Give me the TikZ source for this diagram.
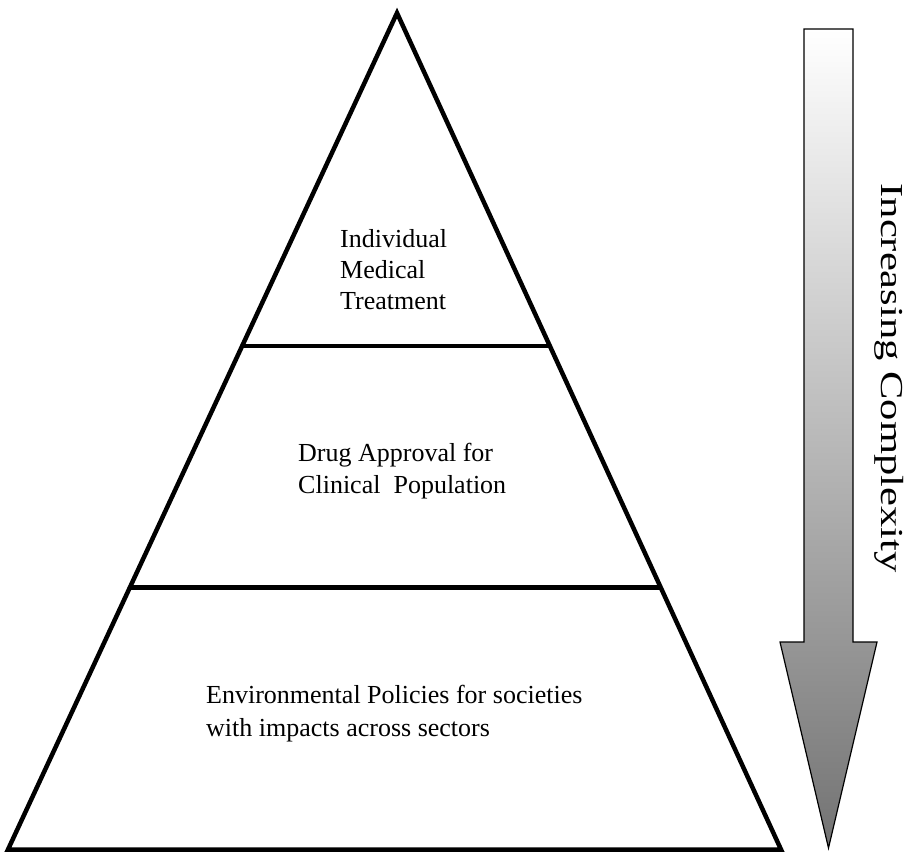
\documentclass[tikz,border=0pt]{standalone}
\usepackage{fontspec}
\setmainfont{Liberation Serif}
\usetikzlibrary{calc}
\begin{document}
\begin{tikzpicture}[x=1pt,y=-1pt,
  pyr/.style={line width=4.5pt},
  lbl/.style={anchor=base west, inner sep=0pt, font=\fontsize{26}{31}\selectfont},
  arrowshape/.style={draw=black, line width=1.2pt, top color=white, bottom color=black!55}]
\path[use as bounding box] (0,0) rectangle (913,854);
% pyramid
\coordinate (apex) at (397,13);
\coordinate (bl) at (8,849.5);
\coordinate (br) at (781,849.5);
\draw[pyr] (apex) -- (bl) -- (br) -- cycle;
\coordinate (l1) at ($(apex)!0.398!(bl)$);
\coordinate (r1) at ($(apex)!0.398!(br)$);
\coordinate (l2) at ($(apex)!0.687!(bl)$);
\coordinate (r2) at ($(apex)!0.687!(br)$);
\draw[pyr] (l1) -- (r1);
\draw[pyr] (l2) -- (r2);
% labels
\node[lbl] (ta) at (340,247) {Individual};
\node[lbl] (tb) at (340,278) {Medical};
\node[lbl] (tc) at (340,309) {Treatment};
\node[lbl] (ma) at (298,461) {Drug Approval for};
\node[lbl] (mb) at (298,493) {Clinical\ \ Population};
\node[lbl] (ba) at (206,703) {Environmental Policies for societies};
\node[lbl] (bb) at (206,736) {with impacts across sectors};
% arrow
\path[arrowshape] (804,29) -- (853,29) -- (853,642) -- (877,642) -- (828.5,848) -- (780,642) -- (804,642) -- cycle;
\node[rotate=-90, anchor=base, inner sep=0pt] (cx) at (881,378)
  {\scalebox{1.33}[1]{\fontsize{32}{38}\selectfont Increasing Complexity}};
\end{tikzpicture}
\end{document}
